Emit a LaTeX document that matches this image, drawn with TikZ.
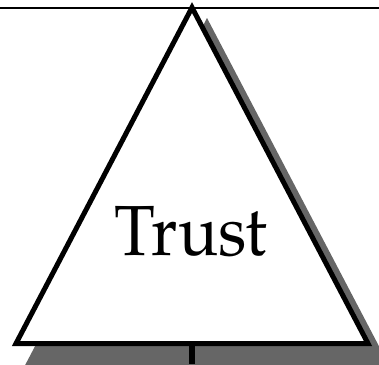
\documentclass[tikz,border=0pt]{standalone}
\usepackage{fontspec}
\setmainfont{texgyrepagella-regular.otf}
\definecolor{shadowgray}{RGB}{102,102,102}
\tikzset{
  trishape/.style={line width=5pt, line join=miter, fill=white, draw=black},
  shadowshape/.style={fill=shadowgray, draw=none},
  stem/.style={line width=6pt, draw=black},
  topline/.style={line width=2pt, draw=black},
  label/.style={font=\fontsize{71}{76}\selectfont, inner sep=0pt, anchor=base, xscale=0.94}
}
\begin{document}
\begin{tikzpicture}[x=1pt,y=-1pt]
\useasboundingbox (0,0) rectangle (379,364);
\begin{scope}
\clip (0,0) rectangle (379,364);
\fill[shadowgray] (207,18) -- (416.6,418) -- (-2.6,418) -- cycle;
\end{scope}
\coordinate (apex) at (192,7.5);
\coordinate (bl) at (16,343.5);
\coordinate (br) at (368,343.5);
\coordinate (basemid) at (191.5,343.5);
\coordinate (bottom) at (191.5,364);
\coordinate (tl) at (0,8);
\coordinate (tr) at (379,8);
\draw[topline] (tl) -- (tr);
\path[trishape] (apex) -- (br) -- (bl) -- cycle;
\draw[stem] (basemid) -- (bottom);
\node[label] (trust) at (191,255) {Trust};
\end{tikzpicture}
\end{document}
